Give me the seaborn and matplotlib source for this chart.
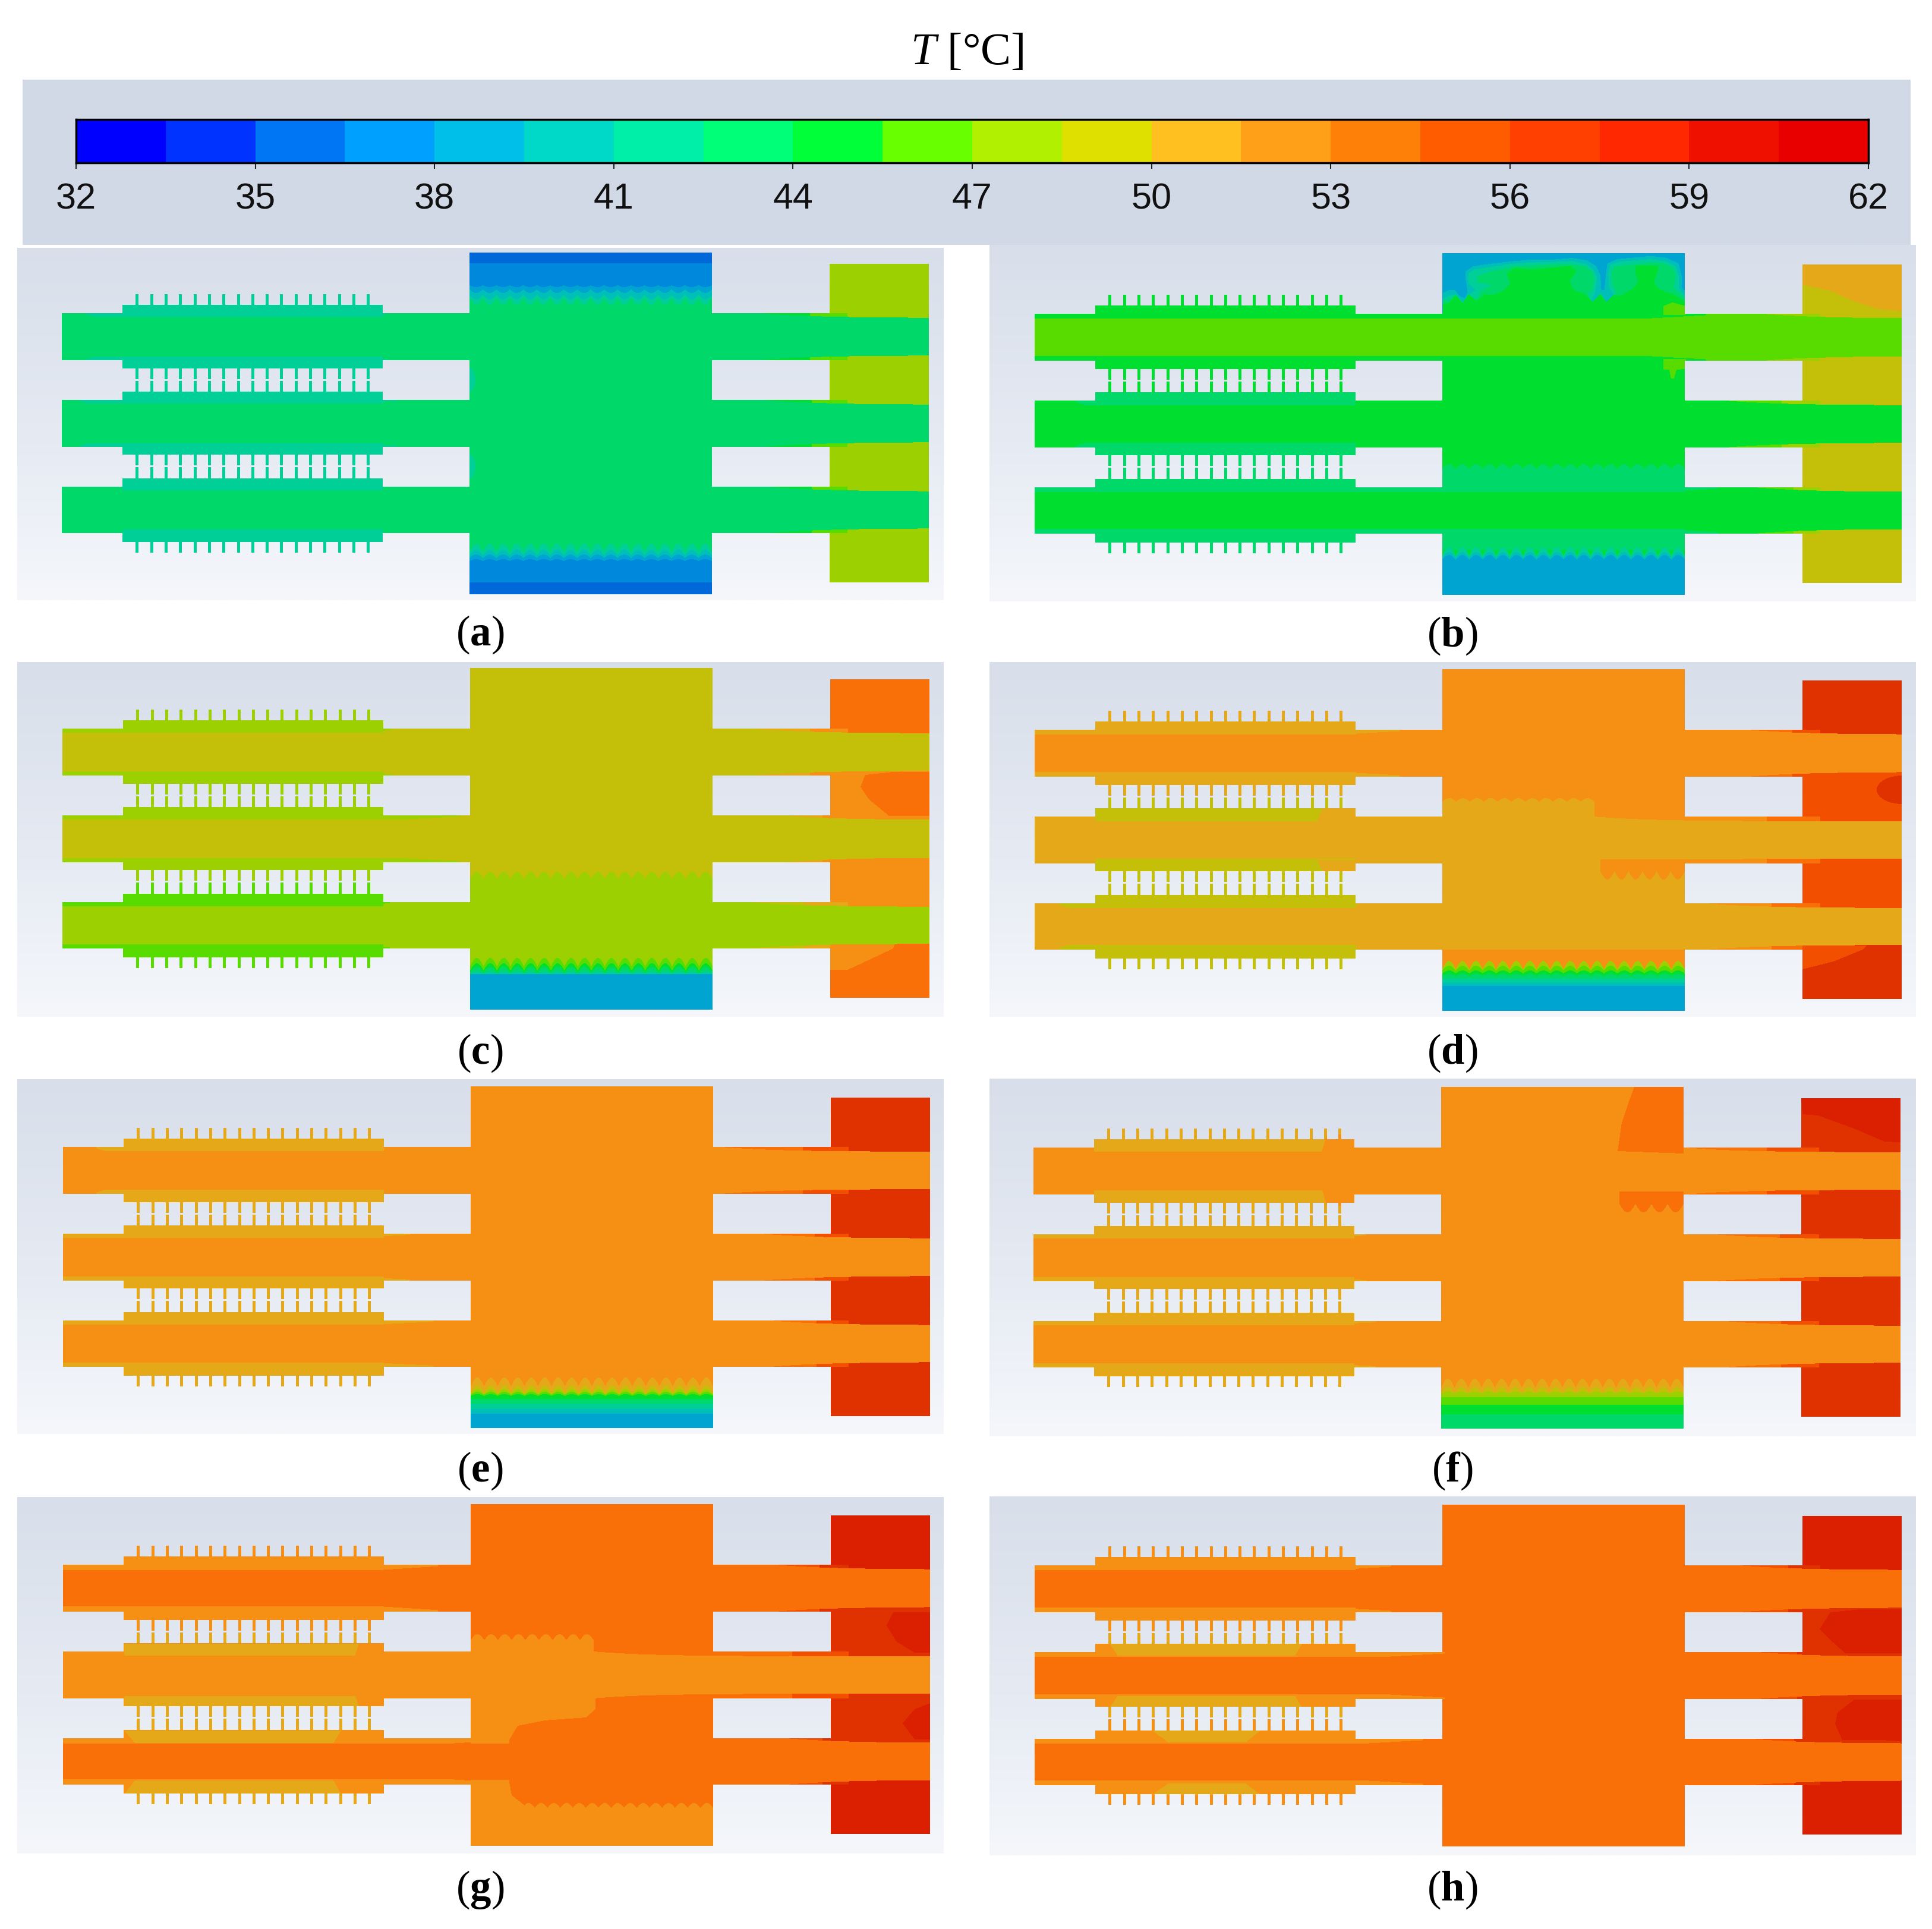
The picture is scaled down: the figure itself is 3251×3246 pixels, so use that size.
import numpy as np
import matplotlib
matplotlib.use("Agg")
import matplotlib.pyplot as plt
from matplotlib.colors import ListedColormap, LinearSegmentedColormap
from matplotlib.path import Path
import seaborn as sns

# ---------- data: temperatures in deg C ----------
T_MIN, T_MAX, N_LEVELS = 32, 62, 20
CBAR_TICKS = [32, 35, 38, 41, 44, 47, 50, 53, 56, 59, 62]
CBAR_LEVELS = [32.75, 34.25, 35.75, 37.25, 38.75, 40.25, 41.75, 43.25, 44.75, 46.25,
               47.75, 49.25, 50.75, 52.25, 53.75, 55.25, 56.75, 58.25, 59.75, 61.25]
PANELS = ["a", "b", "c", "d", "e", "f", "g", "h"]
CORE_T = dict(a=[43.25, 43.25, 43.25], b=[46.25, 44.75, 44.75], c=[49.25, 49.25, 47.75],
              d=[52.25, 50.75, 50.75], e=[52.25, 52.25, 52.25], f=[52.25, 52.25, 52.25],
              g=[53.75, 52.25, 53.75], h=[53.75, 53.75, 53.75])
BAND_T = dict(a=[41.75, 41.75, 43.25], b=[44.75, 43.25, 43.25], c=[47.75, 47.75, 46.25],
              d=[50.75, 50.75, 49.25], e=[50.75, 50.75, 50.75], f=[52.25, 50.75, 50.75],
              g=[52.25, 52.25, 52.25], h=[52.25, 52.25, 52.25])
BASE_T = dict(a=[41.75] * 6, b=[44.75, 44.75, 43.25, 43.25, 43.25, 43.25],
              c=[47.75, 47.75, 47.75, 47.75, 46.25, 46.25],
              d=[50.75, 50.75, 49.25, 49.25, 49.25, 49.25], e=[50.75] * 6, f=[50.75] * 6,
              g=[52.25, 52.25, 52.25, 52.25, 52.25, 52.25], h=[52.25] * 6)
FIN_T = dict(a=[41.75] * 6, b=[44.75, 44.75, 44.75, 43.25, 43.25, 43.25],
             c=[47.75, 47.75, 47.75, 47.75, 46.25, 46.25],
             d=[50.75, 50.75, 49.25, 49.25, 49.25, 49.25], e=[50.75] * 6, f=[50.75] * 6,
             g=[52.25, 52.25, 50.75, 50.75, 50.75, 50.75],
             h=[52.25, 52.25, 50.75, 50.75, 52.25, 52.25])
BLOCK_T = dict(a=43.25, b=44.75, c=49.25, d=52.25, e=52.25, f=52.25, g=53.75, h=53.75)
RIGHT_T = dict(a=[47.75] * 4, b=[49.25] * 4, c=[53.75, 52.25, 52.25, 53.75],
               d=[56.75, 55.25, 55.25, 56.75], e=[56.75] * 4, f=[56.75] * 4,
               g=[58.25, 56.75, 56.75, 58.25], h=[58.25, 56.75, 56.75, 58.25])
RB1_T = dict(a=[44.75] * 3, b=[47.75, 46.25, 46.25], c=[50.75, 50.75, 49.25],
             d=[53.75, 52.25, 52.25], e=[53.75] * 3, f=[53.75] * 3,
             g=[55.25, 53.75, 55.25], h=[55.25] * 3)
RB2_T = dict(a=[46.25] * 3, b=[47.75] * 3, c=[52.25, 52.25, 50.75],
             d=[55.25, 53.75, 53.75], e=[55.25] * 3, f=[55.25] * 3,
             g=[56.75, 55.25, 56.75], h=[56.75] * 3)
FRONT_T = dict(a=[41.75, 40.25, 38.75, 37.25, 35.75],
               b=[41.75, 40.25, 38.75],
               c=[46.25, 44.75, 43.25, 41.75, 38.75],
               d=[47.75, 46.25, 44.75, 43.25, 41.75, 40.25, 38.75],
               e=[50.75, 49.25, 47.75, 46.25, 44.75, 43.25, 41.75, 40.25, 38.75],
               f=[50.75, 49.25, 47.75, 46.25, 44.75, 43.25],
               g=[], h=[])
LABELS = ["(a)", "(b)", "(c)", "(d)", "(e)", "(f)", "(g)", "(h)"]

# ---------- colours: legend bar (bright) and shaded contour fills ----------
BAR_COLORS = ["#0000ff", "#0033ff", "#0076f5", "#00a0ff", "#00bfe8", "#00d8c8", "#00efa8",
              "#00ff78", "#00ff38", "#68ff00", "#b0f000", "#e0e000", "#ffc020", "#ffa018",
              "#ff8008", "#ff5c00", "#ff4000", "#ff2800", "#f01000", "#e80000"]
FILL_COLORS = ["#0000e0", "#0040e0", "#0068d8", "#0088dc", "#00a4d0", "#00bfb8", "#00cf98",
               "#00d96a", "#00df30", "#58dc00", "#9cd000", "#c4c00a", "#e4a818", "#f59015",
               "#f97008", "#f25000", "#e03200", "#da2000", "#d01000", "#c80000"]

# ---------- layout (pixels in the 3251x3246 figure) ----------
FW, FH = 3251, 3246
BOX = dict(a=(29, 1588, 417, 1010), b=(1665, 3224, 412, 1012), c=(29, 1588, 1114, 1711),
           d=(1665, 3224, 1114, 1711), e=(29, 1588, 1816, 2413), f=(1665, 3224, 1815, 2417),
           g=(29, 1588, 2519, 3119), h=(1665, 3224, 2518, 3122))
ORIGIN = dict(a=(104, 425), b=(1741, 426), c=(105, 1124), d=(1741, 1126),
              e=(106, 1828), f=(1739, 1829), g=(106, 2531), h=(1741, 2532))
LABEL_XY = [(808, 1068), (2444, 1070), (808, 1772), (2444, 1772),
            (808, 2475), (2444, 2475), (808, 3180), (2444, 3180)]
# geometry relative to each panel's origin
XR = 1459
ROWS = [(102, 181), (248, 327), (394, 472)]
B0, B1, BH = 686, 1094, 575
RB = (1292, XR, 19, 555)
BASE_X = (102, 540)
BASE_Y = [(88, 195), (234, 340), (380, 487)]
FIN_Y = [(70, 88), (195, 213), (216, 234), (340, 358), (361, 380), (487, 505)]
BAND_X = dict(a=[(40, 546), (30, 563), (0, 0)], b=[(0, 1130), (69, 534), (0, 1150)],
              c=[(0, 556), (0, 670), (0, 551)], d=[(0, 615), (0, 0), (41, 544)],
              e=[(56, 534), (0, 584), (0, 623)], f=[(0, 0), (0, 560), (0, 576)],
              g=[(0, 631), (0, 0), (0, 751)], h=[(0, 600), (0, 690), (0, 654)])
BAND_INS = dict(a=6, b=8, c=7, d=8, e=7, f=7, g=9, h=8)
RB1_X = dict(a=[1174, 1182, 1190], b=[1226, 1163, 1211], c=[1160, 1215, 1155],
             d=[1200, 942, 1130], e=[1108, 1175, 1190], f=[1097, 1146, 1164],
             g=[1199, 893, 1218], h=[1186, 1217, 1207])
RB2_X = dict(a=[1259, 1262, 1262], b=[1280, 1257, 1277], c=[1258, 1279, 1248],
             d=[1275, 1232, 1240], e=[1245, 1265, 1268], f=[1234, 1256, 1258],
             g=[1273, 1227, 1278], h=[1268, 1283, 1278])
FRONT_Y = dict(a=[490, 500, 508, 516, 555], b=[495, 503, 508],
               c=[488, 497, 503, 510, 515], d=[491, 499, 507, 513, 521, 527, 533],
               e=[490, 504, 510, 514, 518, 526, 534, 543, 551],
               f=[491, 505, 513, 522, 535, 551], g=[], h=[])
# plume contours of panel (b): outlines in 1/3 px measured from the block's top-left corner
PLUME_SHELL1 = [(0, 218), (30, 205), (60, 205), (85, 235), (110, 245), (125, 215), (115, 150), (115, 110),
                (150, 85), (250, 70), (340, 60), (450, 50), (560, 50), (650, 42), (730, 55), (775, 85),
                (795, 130), (800, 205), (815, 205), (822, 130), (830, 70), (880, 48), (1050, 32),
                (1130, 42), (1190, 70), (1205, 130), (1205, 190), (1225, 215), (1225, 330), (0, 330)]
PLUME_SHELL2 = [(0, 245), (40, 230), (65, 225), (95, 260), (115, 265), (135, 225), (165, 205), (130, 170),
                (130, 120), (160, 100), (260, 85), (345, 72), (450, 65), (560, 62), (650, 58), (720, 72),
                (760, 100), (778, 140), (770, 210), (750, 255), (770, 265), (797, 225), (825, 265),
                (850, 260), (860, 225), (838, 190), (835, 120), (845, 75), (900, 60), (1050, 48),
                (1120, 58), (1175, 85), (1190, 130), (1190, 190), (1225, 240), (1225, 330), (0, 330)]
PLUME_SHELL3 = [(0, 262), (30, 255), (65, 228), (95, 265), (115, 270), (135, 235), (170, 250), (195, 205),
                (245, 180), (175, 165), (175, 135), (250, 108), (320, 95), (360, 85), (450, 80), (560, 75),
                (650, 75), (720, 85), (755, 115), (765, 150), (755, 200), (730, 225), (755, 265), (775, 265),
                (797, 222), (825, 265), (855, 255), (875, 215), (855, 170), (850, 110), (870, 85), (1050, 65),
                (1110, 68), (1165, 95), (1175, 140), (1165, 190), (1200, 225), (1225, 250), (1225, 330), (0, 330)]
PLUME_MAIN = [(0, 275), (30, 270), (65, 230), (100, 270), (130, 225), (170, 260), (210, 225), (250, 230),
              (300, 210), (340, 170), (322, 122), (360, 92), (450, 100), (560, 90), (640, 82), (675, 105),
              (640, 160), (660, 205), (720, 225), (755, 265), (795, 225), (825, 265), (860, 230), (900, 232),
              (960, 195), (985, 165), (970, 110), (975, 82), (1085, 82), (1085, 105), (1065, 165), (1085, 195),
              (1130, 215), (1165, 225), (1225, 265), (1225, 330), (0, 330)]

sns.set_style("white")
plt.rcParams["font.family"] = ["Liberation Sans", "DejaVu Sans"]
plt.rcParams["mathtext.fontset"] = "custom"
plt.rcParams["mathtext.rm"] = "Liberation Serif"
plt.rcParams["mathtext.it"] = "Liberation Serif:italic"
plt.rcParams["mathtext.bf"] = "Liberation Serif:bold"

fill_cmap = ListedColormap(FILL_COLORS)
bar_cmap = ListedColormap(BAR_COLORS)
bg_cmap = LinearSegmentedColormap.from_list("bg", ["#d8dfea", "#e4e9f2", "#f5f7fb"])


class Field:
    def __init__(self, key):
        x0, x1, y0, y1 = BOX[key]
        ox, oy = ORIGIN[key]
        self.X, self.Y = np.meshgrid(np.arange(x0, x1) - ox + 0.5, np.arange(y0, y1) - oy + 0.5)
        self.F = np.full(self.X.shape, np.nan)

    def rect(self, T, x0, x1, y0, y1):
        m = (self.X >= x0) & (self.X < x1) & (self.Y >= y0) & (self.Y < y1)
        self.F[m] = T

    def poly(self, T, pts):
        pts = np.asarray(pts, float)
        m = (self.X >= pts[:, 0].min()) & (self.X <= pts[:, 0].max()) & \
            (self.Y >= pts[:, 1].min()) & (self.Y <= pts[:, 1].max())
        q = np.column_stack([self.X[m], self.Y[m]])
        inside = Path(pts).contains_points(q)
        idx = np.where(m)
        self.F[idx[0][inside], idx[1][inside]] = T

    def ellipse(self, T, cx, cy, rx, ry):
        m = ((self.X - cx) / rx) ** 2 + ((self.Y - cy) / ry) ** 2 <= 1
        self.F[m] = T

    def wav(self, T, x0, x1, y0, y1, amp=0, n=18, edge="top"):
        s = np.abs(np.sin(np.pi * n * (self.X - x0) / (x1 - x0)))
        top = y0 + (amp * (1 - s) if edge == "top" else 0)
        bot = y1 - (amp * (1 - s) if edge == "bot" else 0)
        m = (self.X >= x0) & (self.X < x1) & (self.Y >= top) & (self.Y < bot)
        self.F[m] = T


def build_base(key):
    f = Field(key)
    X, Y = f.X, f.Y
    ins = BAND_INS[key]
    f.rect(BLOCK_T[key], B0, B1, 0, BH)
    # right block, one segment between each pair of row centres
    cuts = [RB[2], 141, 287, 433, RB[3]]
    for s in range(4):
        f.rect(RIGHT_T[key][s], RB[0], RB[1], cuts[s], cuts[s + 1])
    for r, (yt, yb) in enumerate(ROWS):
        xb0, xb1 = BAND_X[key][r]
        f.rect(CORE_T[key][r], 0, RB[0], yt, yb)
        f.rect(BAND_T[key][r], xb0, xb1, yt, yb)
        # fin base plates and fins
        yc = (yt + yb) / 2
        f.rect(BASE_T[key][2 * r], BASE_X[0], BASE_X[1], BASE_Y[r][0], yc)
        f.rect(BASE_T[key][2 * r + 1], BASE_X[0], BASE_X[1], yc, BASE_Y[r][1])
        # right-hand boundary layers
        xr1, xr2 = RB1_X[key][r], RB2_X[key][r]
        f.rect(RB1_T[key][r], xr1, 1322, yt, yb)
        f.rect(RB2_T[key][r], xr2, 1322, yt, yb)
        # thermal core with its inset
        inset = np.zeros_like(X)
        if xb1 > xb0:
            t = np.clip((xb1 - X) / 100, 0, 1) * np.clip((X - xb0) / 15 + (xb0 == 0), 0, 1)
            band = (X >= xb0) & (X < xb1)
            inset = np.where(band, ins * (0.3 + 0.7 * t), inset)
        inset = np.where((X >= BASE_X[0]) & (X < BASE_X[1]), np.maximum(inset, ins), inset)
        right = 8 * (1 - np.exp(-np.clip(X - xr1, 0, None) / 90))
        inset = np.maximum(inset, right)
        m = (X >= 0) & (X < XR) & (Y >= yt + inset) & (Y < yb - inset)
        f.F[m] = CORE_T[key][r]
    # fins
    fin_left = 124.5 + 24.3 * np.arange(17)
    for g, (y0, y1) in enumerate(FIN_Y):
        for fl in fin_left:
            f.rect(FIN_T[key][g], fl, fl + 5, y0, y1)
    return f


def fronts(f, key, amps):
    ys = FRONT_Y[key]
    for i, (T, y) in enumerate(zip(FRONT_T[key], ys)):
        f.wav(T, B0, B1, y, BH, amp=amps[i] if i < len(amps) else 0)


def plume(outline):
    return [(B0 + 1 + px / 3, py / 3 - 6) for px, py in outline]


def custom(f, key):
    if key == "a":
        fronts(f, key, [14, 10, 6, 3])
        for T, y, amp in [(41.75, 88, 12), (40.25, 79, 8), (38.75, 68, 6), (37.25, 58, 3), (35.75, 18, 0)]:
            f.wav(T, B0, B1, 0, y, amp=amp, edge="bot")
        f.ellipse(41.75, B0, 214, 10, 20)
        f.ellipse(41.75, B0, 360, 10, 20)
    if key == "b":
        f.rect(38.75, B0, B1, 0, 100)
        f.poly(40.25, plume(PLUME_SHELL1))
        f.poly(41.75, plume(PLUME_SHELL2))
        f.poly(43.25, plume(PLUME_SHELL3))
        f.poly(44.75, plume(PLUME_MAIN))
        f.poly(46.25, [(1058, 89), (1073, 83), (1096, 89), (1096, 104), (1058, 104)])
        f.poly(46.25, [(1058, 178), (1096, 178), (1096, 195), (1080, 196), (1076, 211),
                       (1071, 211), (1068, 196), (1058, 196)])
        # lower block zones around the third row
        f.wav(43.25, B0, B1, 355, 402, amp=8)
        f.rect(43.25, B0, B1, 464, 500)
        fronts(f, key, [14, 10, 8])
        f.poly(50.75, [(1292, 19), (1459, 19), (1459, 97), (1420, 94), (1379, 81), (1338, 63), (1292, 53)])
    if key == "c":
        f.wav(47.75, B0, B1, 343, 402, amp=12)
        f.rect(47.75, B0, B1, 464, 500)
        fronts(f, key, [14, 12, 9, 6, 0])
        f.poly(53.75, [(1351, 180), (1398, 175), (1459, 175), (1459, 249), (1391, 249), (1357, 221), (1343, 200)])
        f.poly(52.25, [(1292, 465), (1400, 465), (1398, 472), (1360, 490), (1321, 508), (1292, 508)])
    if key == "d":
        f.wav(50.75, B0, 942, 217, 256, amp=6, n=11)
        f.rect(50.75, B0, B1, 322, 400)
        f.wav(52.25, 952, B1, 320, 354, amp=14, n=6, edge="bot")
        f.rect(50.75, B0, 942, 248, 327)
        fronts(f, key, [14, 8, 5, 3, 0, 0, 0])
        f.poly(50.75, [(485, 234), (545, 234), (545, 256), (475, 256)])
        f.poly(50.75, [(475, 321), (545, 321), (545, 341), (485, 341)])
        f.ellipse(56.75, 1461, 203, 44, 24)
        f.poly(55.25, [(1292, 465), (1400, 465), (1393, 472), (1344, 492), (1292, 505)])
    if key == "e":
        fronts(f, key, [15, 12, 8, 5, 3, 0, 0, 0, 0])
    if key == "f":
        fronts(f, key, [15, 10, 3, 0, 0, 0])
        f.poly(52.25, [(494, 80), (545, 80), (545, 112), (484, 112)])
        f.poly(52.25, [(484, 168), (545, 168), (545, 200), (494, 200)])
        f.poly(53.75, [(1011, 0), (1000, 30), (990, 60), (983, 108), (1094, 112), (1094, 0)])
        f.wav(53.75, 986, B1, 176, 211, amp=14, n=4, edge="bot")
        f.poly(58.25, [(1292, 19), (1459, 19), (1459, 93), (1432, 92), (1381, 70), (1320, 48), (1294, 46)])
    if key == "g":
        f.poly(50.75, [(103, 235), (498, 235), (491, 255), (103, 255)])
        f.poly(50.75, [(103, 323), (492, 323), (498, 341), (103, 341)])
        f.poly(50.75, [(103, 381), (468, 381), (455, 402), (121, 402)])
        f.poly(50.75, [(121, 465), (455, 465), (468, 488), (103, 488)])
        f.wav(52.25, B0, 893, 219, 256, amp=10, n=9)
        f.poly(52.25, [(686, 320), (896, 320), (896, 345), (880, 359), (810, 364), (765, 373), (751, 397),
                       (751, 403), (686, 403)])
        f.rect(52.25, B0, 751, 464, BH)
        f.poly(52.25, [(751, 468), (755, 490), (777, 507), (790, 512), (751, 512)])
        f.wav(52.25, 751, B1, 503, BH, amp=8, n=16)
        f.poly(58.25, [(1397, 182), (1386, 204), (1402, 231), (1433, 250), (1459, 250), (1459, 182)])
        f.poly(58.25, [(1459, 335), (1433, 345), (1413, 369), (1433, 396), (1459, 396)])
    if key == "h":
        f.poly(50.75, [(126, 234), (450, 234), (438, 254), (140, 254)])
        f.poly(50.75, [(140, 322), (438, 322), (450, 341), (126, 341)])
        f.poly(50.75, [(198, 380), (380, 380), (355, 400), (225, 400)])
        f.poly(50.75, [(225, 469), (355, 469), (380, 488), (198, 488)])
        f.poly(58.25, [(1339, 181), (1389, 176), (1459, 176), (1459, 250), (1364, 250), (1334, 223), (1321, 209)])
        f.poly(58.25, [(1379, 328), (1459, 328), (1459, 398), (1425, 396), (1359, 396), (1347, 369), (1351, 350)])


def solid_mask(f):
    X, Y = f.X, f.Y
    m = (X >= B0) & (X < B1) & (Y >= 0) & (Y < BH)
    m |= (X >= RB[0]) & (X < RB[1]) & (Y >= RB[2]) & (Y < RB[3])
    for yt, yb in ROWS:
        m |= (X >= 0) & (X < XR) & (Y >= yt) & (Y < yb)
    for y0, y1 in BASE_Y:
        m |= (X >= BASE_X[0]) & (X < BASE_X[1]) & (Y >= y0) & (Y < y1)
    for y0, y1 in FIN_Y:
        for fl in 124.5 + 24.3 * np.arange(17):
            m |= (X >= fl) & (X < fl + 5) & (Y >= y0) & (Y < y1)
    return m


fig = plt.figure(figsize=(FW / 100, FH / 100), dpi=100, facecolor="white")


def add_ax(x0, x1, y0, y1):
    return fig.add_axes([x0 / FW, 1 - y1 / FH, (x1 - x0) / FW, (y1 - y0) / FH])


# legend strip
strip = add_ax(38, 3215, 134, 412)
strip.set_facecolor("#d1d9e6")
strip.set_xticks([]); strip.set_yticks([])
for s in strip.spines.values():
    s.set_visible(False)
bar = add_ax(128, 3144, 201, 274)
sns.heatmap(np.array([CBAR_LEVELS]), ax=bar, cmap=bar_cmap, vmin=T_MIN, vmax=T_MAX, cbar=False,
            xticklabels=False, yticklabels=False)
bar.set_xticks([(t - T_MIN) / 1.5 for t in CBAR_TICKS])
bar.set_xticklabels([str(t) for t in CBAR_TICKS], fontsize=44, color="#111111")
bar.tick_params(axis="x", length=7, width=1.5, pad=17, bottom=True, color="#222222")
for s in bar.spines.values():
    s.set_visible(True)
    s.set_color("black")
    s.set_linewidth(2.5)

# contour panels
for key in PANELS:
    f = build_base(key)
    custom(f, key)
    f.F[~solid_mask(f)] = np.nan
    x0, x1, y0, y1 = BOX[key]
    ax = add_ax(x0, x1, y0, y1)
    grad = np.linspace(0, 1, 256)[:, None]
    sns.heatmap(f.F, ax=ax, mask=np.isnan(f.F), cmap=fill_cmap, vmin=T_MIN, vmax=T_MAX, cbar=False,
                xticklabels=False, yticklabels=False, zorder=2)
    ax.imshow(grad, extent=(0, x1 - x0, y1 - y0, 0), aspect="auto", cmap=bg_cmap, zorder=0)
    ax.set_xlim(0, x1 - x0)
    ax.set_ylim(y1 - y0, 0)

fig.text(1627 / FW, 1 - 90 / FH, r"$\mathit{T}$ [°C]", ha="center", va="center", fontsize=55,
         family="Liberation Serif", color="black")
for lab, (lx, ly) in zip(LABELS, LABEL_XY):
    fig.text(lx / FW, 1 - ly / FH, "(" + r"$\mathbf{" + lab[1] + "}$" + ")", ha="center", va="center",
             fontsize=51, family="Liberation Serif", color="black")

fig.savefig("out.png", dpi=100, facecolor="white")
